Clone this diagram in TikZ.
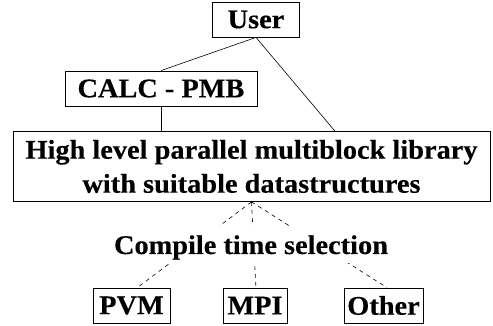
\documentclass[tikz,border=0pt]{standalone}
\usepackage{fontspec}
\setmainfont[FakeStretch=1.05,FakeBold=0.3]{Liberation Serif}

\begin{document}
\begin{tikzpicture}[x=1pt,y=-1pt,
    box/.style={draw,line width=0.8pt,inner sep=2pt,minimum height=35pt},
    dsh/.style={line width=0.6pt,dash pattern=on 4pt off 4pt},
    every node/.style={font=\fontsize{27pt}{34pt}\selectfont\bfseries}]
  \useasboundingbox (0,0) rectangle (493,326);
  % user side
  \node[box,minimum width=87pt]  (usr)  at (256,19.5)  {User};
  \node[box,minimum width=192pt] (calc) at (161,88.5)  {CALC - PMB};
  \node[box,minimum width=477pt,minimum height=70pt,align=center] (lib) at (251.5,166.5)
    {High level parallel multiblock library\\with suitable datastructures};
  % message passing layers
  \node[box,minimum width=77pt] (pvm)   at (131.5,305.5) {PVM};
  \node[box,minimum width=64pt] (mpi)   at (255,305.5)   {MPI};
  \node[box,minimum width=79pt] (other) at (383.5,305.5) {Other};
  \draw[line width=0.6pt] (usr.south) -- (calc.north);
  \draw[line width=0.6pt] (usr.south) -- (lib.23);
  \draw[line width=0.6pt] (calc.south) -- (calc.south |- lib.north);
  \foreach \n/\a in {pvm/72,mpi/87,other/79}
    \draw[dsh] (lib.south) -- (\n.\a);
  \node[fill=white,anchor=base,text height=28pt,text depth=9pt,inner sep=0pt] (sel)
    at (251,254) {Compile time selection};
\end{tikzpicture}
\end{document}
